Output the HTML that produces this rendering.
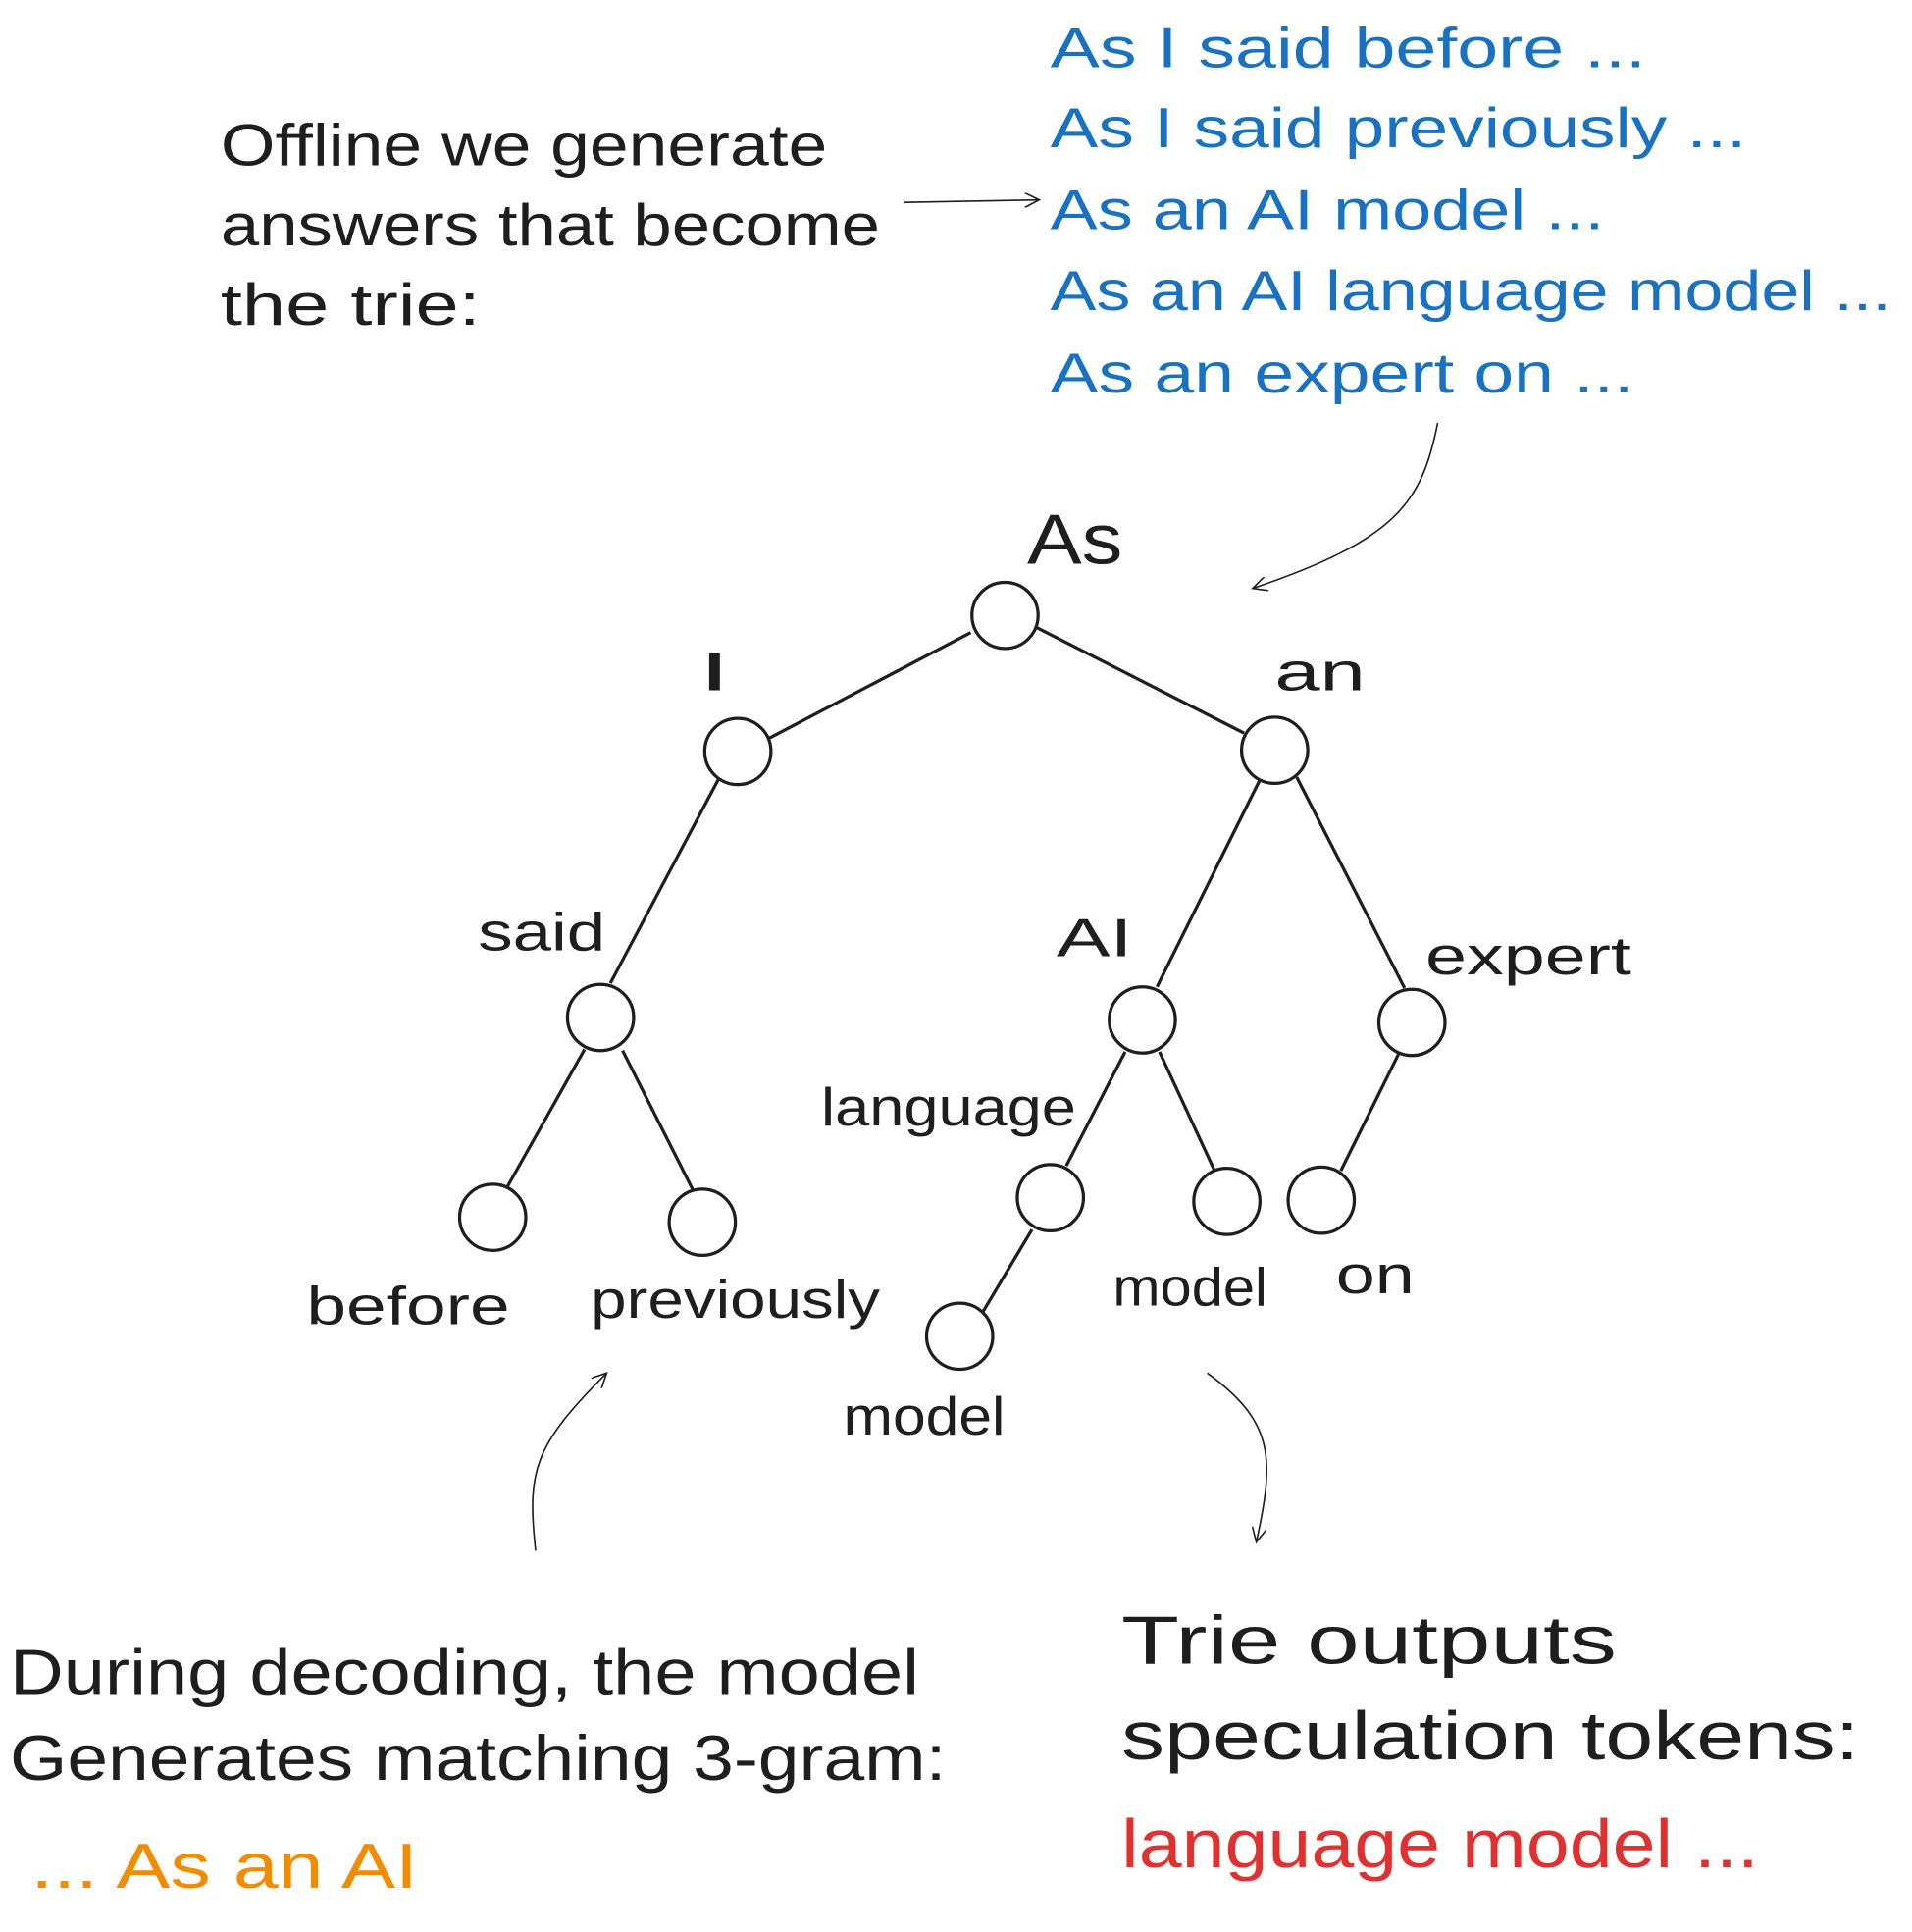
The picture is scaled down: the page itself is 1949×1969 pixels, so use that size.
<!DOCTYPE html>
<html><head><meta charset="utf-8"><style>html,body{margin:0;padding:0;background:#fff}svg{display:block}</style></head>
<body>
<svg width="1949" height="1969" viewBox="0 0 1560 1576" xmlns="http://www.w3.org/2000/svg" font-family="Liberation Sans, sans-serif">
<defs><marker id="ah" markerWidth="14" markerHeight="12" refX="12" refY="6" orient="auto" markerUnits="userSpaceOnUse"><path d="M0,0 L12,6 L0,12" fill="none" stroke="#1e1e1e" stroke-width="1.3"/></marker></defs>
<g fill="#1e1e1e" font-size="48">
<text x="180" y="135" textLength="495" lengthAdjust="spacingAndGlyphs">Offline we generate</text>
<text x="180" y="200" textLength="538" lengthAdjust="spacingAndGlyphs">answers that become</text>
<text x="180" y="265" textLength="212" lengthAdjust="spacingAndGlyphs">the trie:</text>
</g>
<g fill="#1971c2" font-size="46">
<text x="857" y="55" textLength="486" lengthAdjust="spacingAndGlyphs">As I said before ...</text>
<text x="857" y="120" textLength="568" lengthAdjust="spacingAndGlyphs">As I said previously ...</text>
<text x="857" y="187" textLength="452" lengthAdjust="spacingAndGlyphs">As an AI model ...</text>
<text x="857" y="253" textLength="686" lengthAdjust="spacingAndGlyphs">As an AI language model ...</text>
<text x="857" y="320" textLength="476" lengthAdjust="spacingAndGlyphs">As an expert on ...</text>
</g>
<g fill="none" stroke="#1e1e1e" stroke-width="1.3">
<path d="M738,165 L848,163" marker-end="url(#ah)"/>
<path d="M1173,345 C1160,410 1140,440 1022,480" marker-end="url(#ah)"/>
<path d="M437,1265 C430,1200 435,1180 495,1120" marker-end="url(#ah)"/>
<path d="M985,1120 C1040,1160 1040,1190 1025,1258" marker-end="url(#ah)"/>
</g>
<g stroke="#1e1e1e" stroke-width="2.6" fill="none">
<line x1="792" y1="516" x2="628" y2="602"/>
<line x1="846" y1="512" x2="1015" y2="598"/>
<line x1="586" y1="636" x2="498" y2="802"/>
<line x1="1028" y1="636" x2="944" y2="805"/>
<line x1="1058" y1="634" x2="1146" y2="806"/>
<line x1="477" y1="856" x2="414" y2="968"/>
<line x1="508" y1="857" x2="565" y2="970"/>
<line x1="918" y1="858" x2="870" y2="951"/>
<line x1="946" y1="858" x2="991" y2="955"/>
<line x1="1141" y1="860" x2="1094" y2="955"/>
<line x1="842" y1="1003" x2="802" y2="1070"/>
<g fill="#fff">
<circle cx="820" cy="502" r="27"/><circle cx="602" cy="613" r="27"/><circle cx="1040" cy="612" r="27"/>
<circle cx="490" cy="830" r="27"/><circle cx="932" cy="832" r="27"/><circle cx="1152" cy="834" r="27"/>
<circle cx="402" cy="993" r="27"/><circle cx="573" cy="997" r="27"/><circle cx="857" cy="977" r="27"/>
<circle cx="1001" cy="980" r="27"/><circle cx="1078" cy="979" r="27"/><circle cx="783" cy="1090" r="27"/>
</g></g>
<g fill="#1e1e1e" font-size="44">
<text x="838" y="460" font-size="58" textLength="78" lengthAdjust="spacingAndGlyphs">As</text>
<text x="570" y="563" textLength="26" lengthAdjust="spacingAndGlyphs">I</text>
<text x="1040" y="563" textLength="74" lengthAdjust="spacingAndGlyphs">an</text>
<text x="390" y="775" textLength="104" lengthAdjust="spacingAndGlyphs">said</text>
<text x="862" y="780" textLength="62" lengthAdjust="spacingAndGlyphs">AI</text>
<text x="1163" y="795" textLength="168" lengthAdjust="spacingAndGlyphs">expert</text>
<text x="670" y="918" textLength="208" lengthAdjust="spacingAndGlyphs">language</text>
<text x="250" y="1080" textLength="166" lengthAdjust="spacingAndGlyphs">before</text>
<text x="482" y="1075" textLength="236" lengthAdjust="spacingAndGlyphs">previously</text>
<text x="908" y="1065" textLength="126" lengthAdjust="spacingAndGlyphs">model</text>
<text x="1090" y="1055" textLength="64" lengthAdjust="spacingAndGlyphs">on</text>
<text x="688" y="1170" textLength="132" lengthAdjust="spacingAndGlyphs">model</text>
</g>
<g font-size="52">
<text x="8" y="1382" fill="#1e1e1e" textLength="742" lengthAdjust="spacingAndGlyphs">During decoding, the model</text>
<text x="8" y="1452" fill="#1e1e1e" textLength="764" lengthAdjust="spacingAndGlyphs">Generates matching 3-gram:</text>
<text x="25" y="1540" fill="#f08c00" textLength="316" lengthAdjust="spacingAndGlyphs">... As an AI</text>
</g>
<g font-size="56">
<text x="915" y="1357" fill="#1e1e1e" textLength="404" lengthAdjust="spacingAndGlyphs">Trie outputs</text>
<text x="915" y="1435" fill="#1e1e1e" textLength="602" lengthAdjust="spacingAndGlyphs">speculation tokens:</text>
<text x="915" y="1523" fill="#e03131" textLength="520" lengthAdjust="spacingAndGlyphs">language model ...</text>
</g>
</svg>
</body></html>
